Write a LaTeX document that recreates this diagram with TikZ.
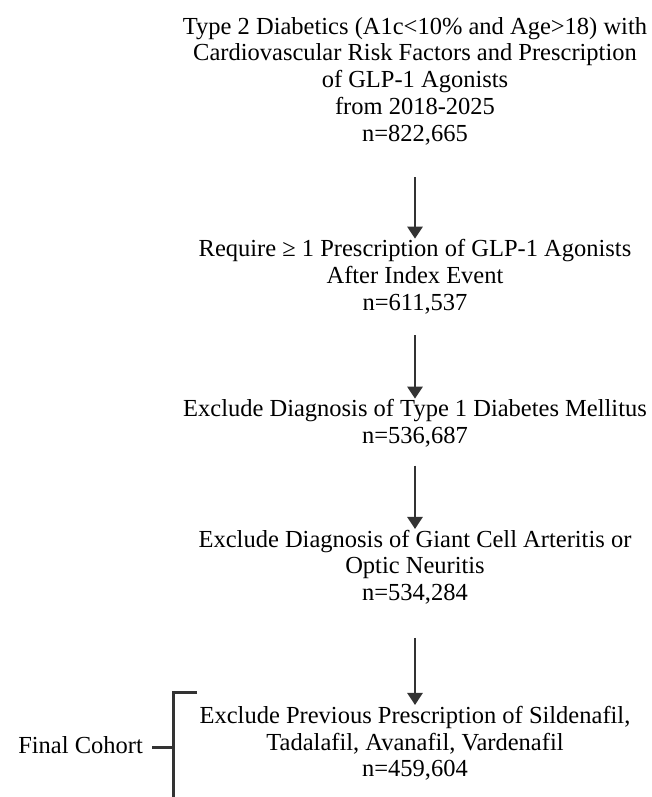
\documentclass[tikz,border=0pt]{standalone}
\usepackage{fontspec}
\setmainfont{Liberation Serif}
\usetikzlibrary{arrows.meta}
\definecolor{ink}{HTML}{333333}
\newcommand{\fl}{\rule{0pt}{18pt}}
\tikzset{
  x=1pt,y=1pt,
  blk/.style={anchor=north,inner sep=0pt,align=center,font=\fontsize{24.5}{26.8}\selectfont},
  arr/.style={draw=ink,line width=2.6pt,-{Triangle[width=15pt,length=12pt]}},
  brk/.style={draw=ink,line width=3pt},
  lbl/.style={inner sep=0pt,font=\fontsize{24.5}{26.8}\selectfont}
}
\begin{document}
\begin{tikzpicture}
\useasboundingbox (0,0) rectangle (652,797);
\node[blk] (b1) at (415,781) {\fl Type 2 Diabetics (A1c<10\% and Age>18) with\\Cardiovascular Risk Factors and Prescription\\of GLP-1 Agonists\\from 2018-2025\\n=822,665};
\node[blk] (b2) at (415,558.3) {\fl Require ≥ 1 Prescription of GLP-1 Agonists\\After Index Event\\n=611,537};
\node[blk] (b3) at (415,398.3) {\fl Exclude Diagnosis of Type 1 Diabetes Mellitus\\n=536,687};
\node[blk] (b4) at (415,268) {\fl Exclude Diagnosis of Giant Cell Arteritis or\\Optic Neuritis\\n=534,284};
\node[blk] (b5) at (415,92) {\fl Exclude Previous Prescription of Sildenafil,\\Tadalafil, Avanafil, Vardenafil\\n=459,604};
\node[lbl,anchor=base east] (fc) at (143,43) {Final Cohort};
\draw[arr,shorten <=32pt] (b1.south) -- (b2.north);
\draw[arr,shorten <=21pt] (b2.south) -- (b3.north);
\draw[arr,shorten <=18pt] (b3.south) -- (b4.north);
\draw[arr,shorten <=33pt] (b4.south) -- (b5.north);
\coordinate (bt) at (173,104);
\coordinate (bb) at (173,-2);
\coordinate (bh) at (197,104);
\draw[brk] (bh) -- (bt) -- (bb);
\draw[brk] (fc.east |- 0,49) ++(9,0) -- (173,49);
\end{tikzpicture}
\end{document}
